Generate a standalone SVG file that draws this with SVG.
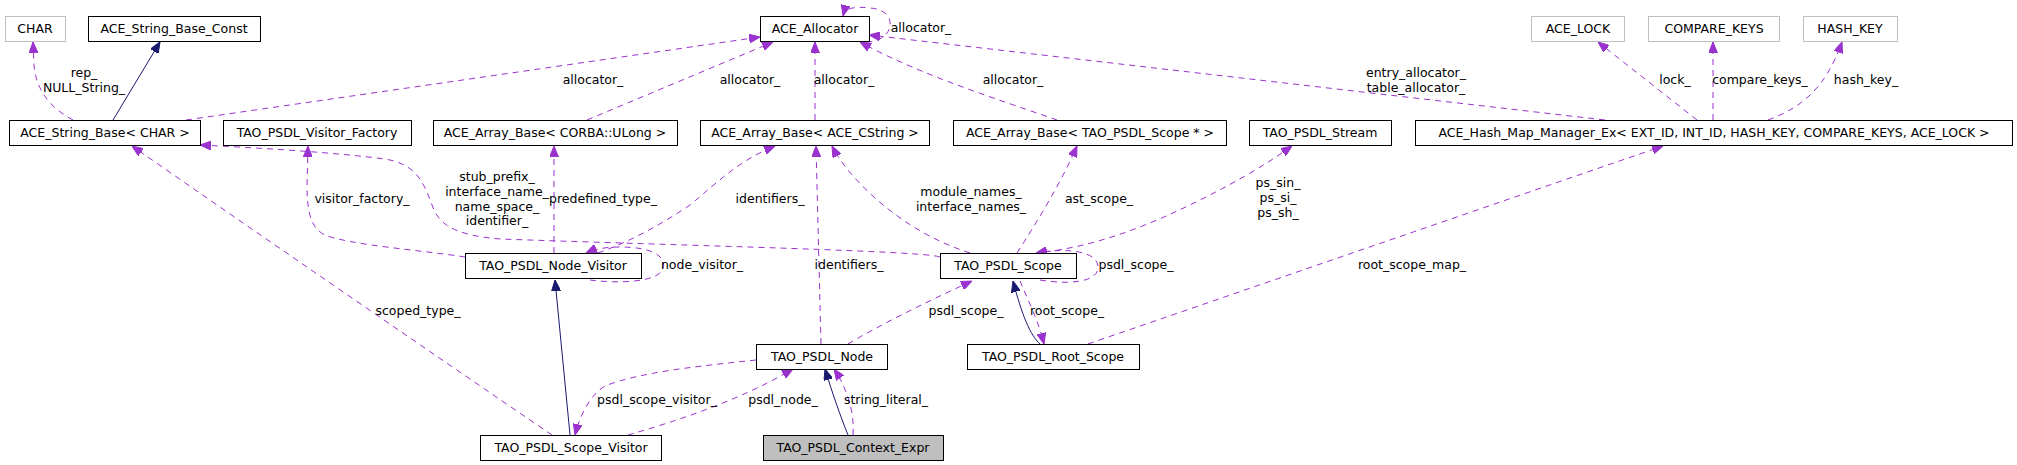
<svg xmlns="http://www.w3.org/2000/svg" width="2017" height="465" viewBox="0 0 2017 465">
<style>
text{font-family:"DejaVu Sans","Liberation Sans",sans-serif;font-size:12.5px;fill:#000;text-anchor:middle}
.node rect{fill:#fff;stroke:#000;stroke-width:1}
.node.ext rect{stroke:#bfbfbf}
.node.cur rect{fill:#bfbfbf}
.u{fill:none;stroke:#9a32cd;stroke-width:1;stroke-dasharray:6,5;marker-end:url(#ap)}
.i{fill:none;stroke:#191970;stroke-width:1;marker-end:url(#an)}
</style>
<defs>
<marker id="ap" viewBox="0 0 11 9" refX="11" refY="4.5" markerWidth="11" markerHeight="9" markerUnits="userSpaceOnUse" orient="auto"><path d="M0,0 L11,4.5 L0,9 z" fill="#9a32cd" stroke="#9a32cd"/></marker>
<marker id="an" viewBox="0 0 11 9" refX="11" refY="4.5" markerWidth="11" markerHeight="9" markerUnits="userSpaceOnUse" orient="auto"><path d="M0,0 L11,4.5 L0,9 z" fill="#191970" stroke="#191970"/></marker>
</defs>
<rect width="2017" height="465" fill="#fff"/>

<g id="connectors">
<path class="u" d="M73,120 C50,108 36,90 34,65 L33,42"/>
<path class="i" d="M113,120 L160,42"/>
<path class="u" d="M186,120 L760,37"/>
<path class="u" d="M587,120 L773,42"/>
<path class="u" d="M815,120 L815,42"/>
<path class="u" d="M1057,120 C1000,100 920,75 860,42"/>
<path class="u" d="M866,42 C895,42 900,10 870,8 C855,6 845,8 843,16"/>
<path class="u" d="M1605,120 L869,35"/>
<path class="u" d="M1697,120 L1598,42"/>
<path class="u" d="M1713,120 L1713,42"/>
<path class="u" d="M1768,120 C1800,108 1825,90 1842,42"/>
<path class="u" d="M552,435 C420,345 260,235 132,146"/>
<path class="u" d="M940,257 C925,251 700,246 500,239 C450,235 438,222 432,205 C423,180 415,164 385,159 C330,152 260,148 200,145"/>
<path class="u" d="M465,257 C420,250 350,245 325,235 C310,228 307,210 307,185 L308,146"/>
<path class="u" d="M554,253 L554,146"/>
<path class="u" d="M598,253 C620,245 650,232 690,205 C720,180 740,160 775,146"/>
<path class="u" d="M590,280 C620,284 660,282 663,268 C666,255 650,247 620,247 C605,247 595,249 586,253"/>
<path class="u" d="M821,344 L816,146"/>
<path class="u" d="M970,253 C930,240 900,220 875,198 C855,180 840,162 832,146"/>
<path class="u" d="M1017,253 C1035,225 1060,185 1077,146"/>
<path class="u" d="M1045,252 C1100,245 1150,225 1200,200 C1240,180 1265,165 1292,146"/>
<path class="u" d="M1040,280 C1070,285 1097,282 1098,268 C1099,252 1070,247 1036,253"/>
<path class="u" d="M848,344 C880,325 920,305 972,281"/>
<path class="i" d="M1040,344 C1030,335 1022,315 1013,281"/>
<path class="u" d="M1020,281 C1028,300 1038,320 1044,344"/>
<path class="u" d="M1088,344 L1663,146"/>
<path class="i" d="M570,435 L555,280"/>
<path class="u" d="M756,360 C700,366 640,372 605,386 C590,395 580,415 575,435"/>
<path class="u" d="M628,435 C680,420 740,400 793,369"/>
<path class="i" d="M848,435 C840,415 833,395 825,369"/>
<path class="u" d="M853,435 C855,410 845,385 834,369"/>

<text x="84" y="77">rep_</text>
<text x="84" y="92">NULL_String_</text>
<text x="593" y="84">allocator_</text>
<text x="750" y="84">allocator_</text>
<text x="844" y="84">allocator_</text>
<text x="1013" y="84">allocator_</text>
<text x="921" y="32">allocator_</text>
<text x="1416" y="77">entry_allocator_</text>
<text x="1416" y="92">table_allocator_</text>
<text x="1675" y="84">lock_</text>
<text x="1760" y="84">compare_keys_</text>
<text x="1866" y="84">hash_key_</text>
<text x="418" y="315">scoped_type_</text>
<text x="497" y="181">stub_prefix_</text>
<text x="497" y="196">interface_name_</text>
<text x="497" y="211">name_space_</text>
<text x="497" y="225">identifier_</text>
<text x="362" y="203">visitor_factory_</text>
<text x="603" y="203">predefined_type_</text>
<text x="770" y="203">identifiers_</text>
<text x="702" y="269">node_visitor_</text>
<text x="849" y="269">identifiers_</text>
<text x="971" y="196">module_names_</text>
<text x="971" y="211">interface_names_</text>
<text x="1099" y="203">ast_scope_</text>
<text x="1278" y="187">ps_sin_</text>
<text x="1278" y="202">ps_si_</text>
<text x="1278" y="217">ps_sh_</text>
<text x="1136" y="269">psdl_scope_</text>
<text x="966" y="315">psdl_scope_</text>
<text x="1067" y="315">root_scope_</text>
<text x="1412" y="269">root_scope_map_</text>
<text x="657" y="404">psdl_scope_visitor_</text>
<text x="783" y="404">psdl_node_</text>
<text x="886" y="404">string_literal_</text>
</g>

<g id="n_char" class="node ext"><rect x="5.5" y="16.5" width="60" height="25"/><text x="35" y="33">CHAR</text></g>
<g id="n_sbc" class="node"><rect x="88.5" y="16.5" width="172" height="25"/><text x="174" y="33">ACE_String_Base_Const</text></g>
<g id="n_alloc" class="node"><rect x="760.5" y="16.5" width="109" height="25"/><text x="815" y="33">ACE_Allocator</text></g>
<g id="n_lock" class="node ext"><rect x="1531.5" y="16.5" width="93" height="25"/><text x="1578" y="33">ACE_LOCK</text></g>
<g id="n_ck" class="node ext"><rect x="1648.5" y="16.5" width="131" height="25"/><text x="1714" y="33">COMPARE_KEYS</text></g>
<g id="n_hk" class="node ext"><rect x="1803.5" y="16.5" width="94" height="25"/><text x="1850" y="33">HASH_KEY</text></g>

<g id="n_sb" class="node"><rect x="9.5" y="120.5" width="191" height="25"/><text x="105" y="137">ACE_String_Base&lt; CHAR &gt;</text></g>
<g id="n_vf" class="node"><rect x="223.5" y="120.5" width="188" height="25"/><text x="317" y="137">TAO_PSDL_Visitor_Factory</text></g>
<g id="n_abu" class="node"><rect x="433.5" y="120.5" width="244" height="25"/><text x="555" y="137">ACE_Array_Base&lt; CORBA::ULong &gt;</text></g>
<g id="n_abc" class="node"><rect x="700.5" y="120.5" width="229" height="25"/><text x="815" y="137">ACE_Array_Base&lt; ACE_CString &gt;</text></g>
<g id="n_abs" class="node"><rect x="953.5" y="120.5" width="273" height="25"/><text x="1090" y="137">ACE_Array_Base&lt; TAO_PSDL_Scope * &gt;</text></g>
<g id="n_stream" class="node"><rect x="1249.5" y="120.5" width="142" height="25"/><text x="1320" y="137">TAO_PSDL_Stream</text></g>
<g id="n_hm" class="node"><rect x="1415.5" y="120.5" width="597" height="25"/><text x="1714" y="137">ACE_Hash_Map_Manager_Ex&lt; EXT_ID, INT_ID, HASH_KEY, COMPARE_KEYS, ACE_LOCK &gt;</text></g>

<g id="n_nv" class="node"><rect x="465.5" y="253.5" width="176" height="25"/><text x="553" y="270">TAO_PSDL_Node_Visitor</text></g>
<g id="n_scope" class="node"><rect x="940.5" y="253.5" width="136" height="25"/><text x="1008" y="270">TAO_PSDL_Scope</text></g>

<g id="n_node" class="node"><rect x="756.5" y="344.5" width="131" height="25"/><text x="822" y="361">TAO_PSDL_Node</text></g>
<g id="n_root" class="node"><rect x="967.5" y="344.5" width="172" height="25"/><text x="1053" y="361">TAO_PSDL_Root_Scope</text></g>

<g id="n_sv" class="node"><rect x="480.5" y="435.5" width="181" height="25"/><text x="571" y="452">TAO_PSDL_Scope_Visitor</text></g>
<g id="n_ce" class="node cur"><rect x="763.5" y="435.5" width="180" height="25"/><text x="853" y="452">TAO_PSDL_Context_Expr</text></g>
</svg>
